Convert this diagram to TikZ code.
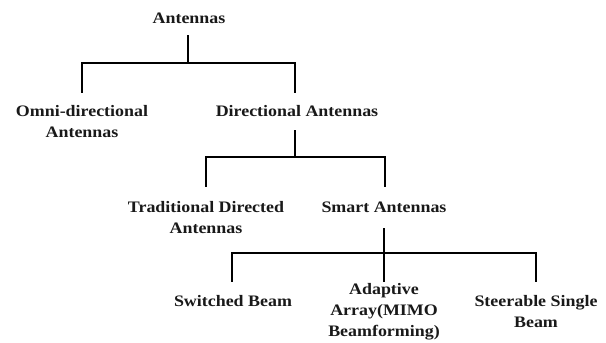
\documentclass[tikz,border=0pt]{standalone}
\usepackage{fontspec}
\setmainfont[FakeStretch=1.12]{Liberation Serif}
\begin{document}
\begin{tikzpicture}[x=1pt,y=-1pt,
  lbl/.style={inner sep=0pt,align=center,font=\bfseries\fontsize{16}{21}\selectfont,text=black!90},
  conn/.style={draw=black,line width=1.8pt}]
\useasboundingbox[fill=white] (0,0) rectangle (606,343);
% nodes
\node[lbl] (root) at (189,18) {Antennas};
\node[lbl] (omni) at (82,121.5) {Omni-directional\\Antennas};
\node[lbl] (dir) at (297,111) {Directional Antennas};
\node[lbl] (trad) at (206,217.5) {Traditional Directed\\Antennas};
\node[lbl] (smart) at (384,207) {Smart Antennas};
\node[lbl] (sw) at (233,301) {Switched Beam};
\node[lbl] (ad) at (384,312) {Adaptive\\Array(MIMO\\Beamforming)};
\node[lbl] (st) at (536,311.5) {Steerable Single\\Beam};
% junctions
\coordinate (j1) at (188,63);
\coordinate (j2) at (295,157);
\coordinate (j3) at (384,253);
% connectors
\draw[conn] ([xshift=-1pt,yshift=-17pt]root.center) -- (j1)
  -| ([yshift=28.5pt]omni.center);
\draw[conn] (j1) -| ([xshift=-2pt,yshift=18pt]dir.center);
\draw[conn] ([xshift=-2pt,yshift=-19pt]dir.center) -- (j2)
  -| ([yshift=30.5pt]trad.center);
\draw[conn] (j2) -| ([xshift=1pt,yshift=20pt]smart.center);
\draw[conn] ([yshift=-21pt]smart.center) -- (j3) -- ([yshift=30pt]ad.center);
\draw[conn] (j3) -| ([xshift=-1pt,yshift=19pt]sw.center);
\draw[conn] (j3) -| ([yshift=29.5pt]st.center);
\end{tikzpicture}
\end{document}
